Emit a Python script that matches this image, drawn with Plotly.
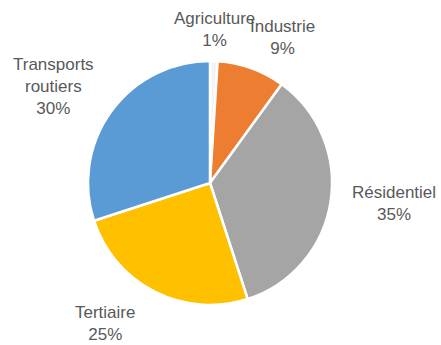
import plotly.graph_objects as go

# Parts by sector, in percent, clockwise from 12 o'clock
sectors = ["Agriculture", "Industrie", "Résidentiel", "Tertiaire", "Transports routiers"]
shares = [1, 9, 35, 25, 30]
label_lines = ["Agriculture", "Industrie", "Résidentiel", "Tertiaire", "Transports<br>routiers"]
colors = ["#F4F4F4", "#ED7D31", "#A5A5A5", "#FFC000", "#5B9BD5"]

W, H = 441, 345
cx, cy, r = 210, 183, 122  # pie centre and radius in pixels

# Label block centres (pixels from top-left)
label_pos = [(214, 30), (282, 38), (394, 203), (105, 323), (53, 86)]

fig = go.Figure(
    go.Pie(
        labels=sectors,
        values=shares,
        sort=False,
        direction="clockwise",
        rotation=0,
        marker=dict(colors=colors, line=dict(color="white", width=2.5)),
        textinfo="none",
        hoverinfo="label+percent",
        showlegend=False,
        domain=dict(x=[(cx - r) / W, (cx + r) / W],
                    y=[(H - cy - r) / H, (H - cy + r) / H]),
    )
)

for text, v, (px, py) in zip(label_lines, shares, label_pos):
    fig.add_annotation(
        x=px / W, y=1 - py / H, xref="paper", yref="paper",
        text=f"{text}<br>{v}%", showarrow=False,
        xanchor="center", yanchor="middle", align="center",
        font=dict(family="Liberation Sans, Arial, sans-serif", size=17, color="#595959"),
    )

fig.update_layout(
    width=W, height=H,
    margin=dict(l=0, r=0, t=0, b=0),
    paper_bgcolor="white",
    plot_bgcolor="white",
)

fig.write_html("out.html")
